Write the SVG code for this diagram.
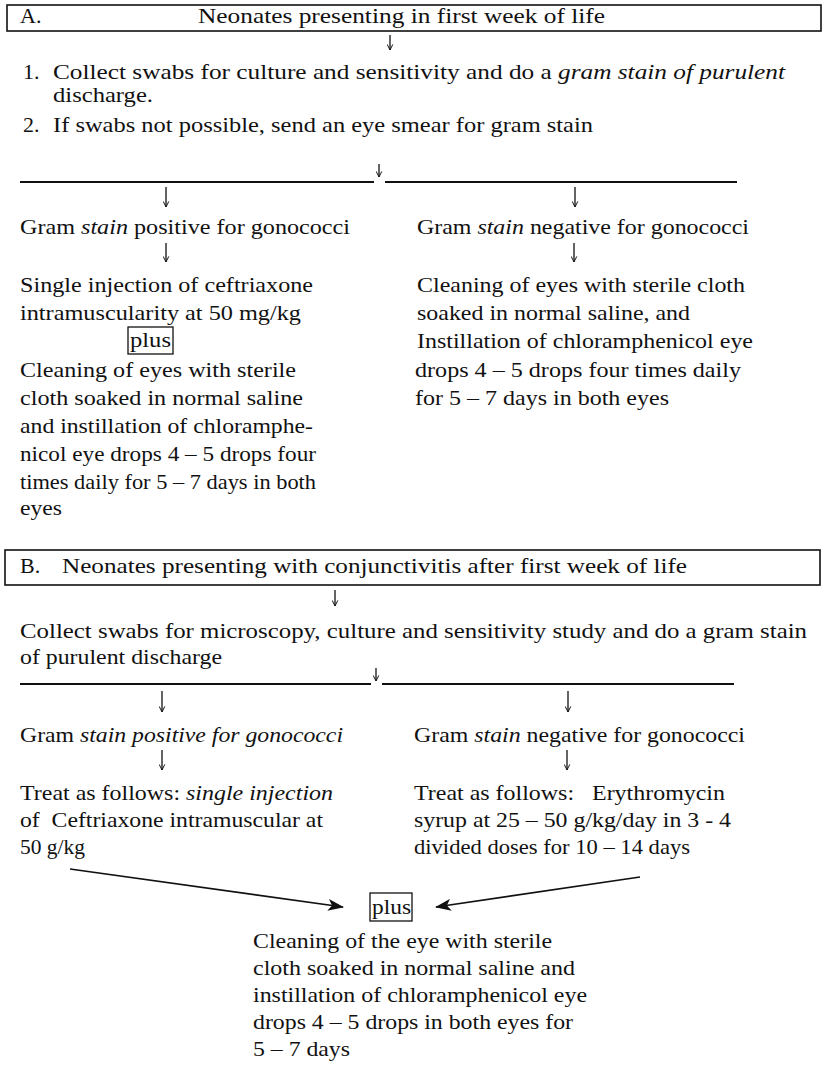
<svg xmlns="http://www.w3.org/2000/svg" width="825" height="1066" viewBox="0 0 825 1066">
<style>
text{font-family:"Liberation Serif","Times New Roman",serif;font-size:22px;fill:#111}
.i{font-style:italic}
.box{fill:none;stroke:#111;stroke-width:1.6}
.pbox{fill:none;stroke:#111;stroke-width:1.3}
.rule{stroke:#111;stroke-width:1.8;fill:none}
.dn{stroke:#111;stroke-width:1.3;fill:none;marker-end:url(#open)}
.big{stroke:#111;stroke-width:1.6;fill:none;marker-end:url(#solid)}
</style>
<defs>
<marker id="open" viewBox="0 0 10 10" refX="9" refY="5" markerWidth="7" markerHeight="7" markerUnits="userSpaceOnUse" orient="auto">
<path d="M1,1 L9,5 L1,9" fill="none" stroke="#111" stroke-width="1.4"/>
</marker>
<marker id="solid" viewBox="0 0 16 12" refX="15" refY="6" markerWidth="16" markerHeight="12" markerUnits="userSpaceOnUse" orient="auto">
<path d="M0,0 L16,6 L0,12 L4,6 Z" fill="#111"/>
</marker>
</defs>
<rect width="825" height="1066" fill="#fff"/>

<g id="headerA">
<rect class="box" x="7" y="5" width="814" height="26"/>
<text x="20" y="23">A.</text>
<text x="198" y="23" textLength="407" lengthAdjust="spacingAndGlyphs">Neonates presenting in first week of life</text>
</g>

<g id="stepsA">
<text x="23" y="79">1.</text>
<text x="53" y="79" textLength="732" lengthAdjust="spacingAndGlyphs">Collect swabs for culture and sensitivity and do a <tspan class="i">gram stain of purulent</tspan></text>
<text x="53" y="102" textLength="100" lengthAdjust="spacingAndGlyphs">discharge.</text>
<text x="23" y="132">2.</text>
<text x="53" y="132" textLength="540" lengthAdjust="spacingAndGlyphs">If swabs not possible, send an eye smear for gram stain</text>
</g>

<g id="posA">
<text x="20" y="234" textLength="330" lengthAdjust="spacingAndGlyphs">Gram <tspan class="i">stain</tspan> positive for gonococci</text>
</g>
<g id="posTreatA">
<text x="20" y="292" textLength="293" lengthAdjust="spacingAndGlyphs">Single injection of ceftriaxone</text>
<text x="20" y="320" textLength="281" lengthAdjust="spacingAndGlyphs">intramuscularity at 50 mg/kg</text>
<rect class="pbox" x="128" y="327" width="45" height="27"/>
<text x="130" y="347" textLength="41" lengthAdjust="spacingAndGlyphs">plus</text>
<text x="20" y="377" textLength="276" lengthAdjust="spacingAndGlyphs">Cleaning of eyes with sterile</text>
<text x="20" y="405" textLength="283" lengthAdjust="spacingAndGlyphs">cloth soaked in normal saline</text>
<text x="20" y="433" textLength="293" lengthAdjust="spacingAndGlyphs">and instillation of chloramphe-</text>
<text x="20" y="461" textLength="296" lengthAdjust="spacingAndGlyphs">nicol eye drops 4 – 5 drops four</text>
<text x="20" y="489" textLength="296" lengthAdjust="spacingAndGlyphs">times daily for 5 – 7 days in both</text>
<text x="20" y="515" textLength="42" lengthAdjust="spacingAndGlyphs">eyes</text>
</g>

<g id="negA">
<text x="417" y="234" textLength="332" lengthAdjust="spacingAndGlyphs">Gram <tspan class="i">stain</tspan> negative for gonococci</text>
</g>
<g id="negTreatA">
<text x="417" y="292" textLength="328" lengthAdjust="spacingAndGlyphs">Cleaning of eyes with sterile cloth</text>
<text x="417" y="320" textLength="273" lengthAdjust="spacingAndGlyphs">soaked in normal saline, and</text>
<text x="417" y="348" textLength="336" lengthAdjust="spacingAndGlyphs">Instillation of chloramphenicol eye</text>
<text x="415" y="377" textLength="326" lengthAdjust="spacingAndGlyphs">drops 4 – 5 drops four times daily</text>
<text x="415" y="405" textLength="254" lengthAdjust="spacingAndGlyphs">for 5 – 7 days in both eyes</text>
</g>

<g id="headerB">
<rect class="box" x="5" y="550" width="815" height="35"/>
<text x="20" y="573">B.</text>
<text x="62" y="573" textLength="625" lengthAdjust="spacingAndGlyphs">Neonates presenting with conjunctivitis after first week of life</text>
</g>

<g id="stepB">
<text x="20" y="638" textLength="787" lengthAdjust="spacingAndGlyphs">Collect swabs for microscopy, culture and sensitivity study and do a gram stain</text>
<text x="20" y="664" textLength="202" lengthAdjust="spacingAndGlyphs">of purulent discharge</text>
</g>

<g id="posB">
<text x="20" y="742" textLength="323" lengthAdjust="spacingAndGlyphs">Gram <tspan class="i">stain positive for gonococci</tspan></text>
</g>
<g id="posTreatB">
<text x="20" y="800" textLength="313" lengthAdjust="spacingAndGlyphs">Treat as follows: <tspan class="i">single injection</tspan></text>
<text x="20" y="827" textLength="303" lengthAdjust="spacingAndGlyphs" xml:space="preserve">of  Ceftriaxone intramuscular at</text>
<text x="20" y="854" textLength="65" lengthAdjust="spacingAndGlyphs">50 g/kg</text>
</g>

<g id="negB">
<text x="414" y="742" textLength="331" lengthAdjust="spacingAndGlyphs">Gram <tspan class="i">stain</tspan> negative for gonococci</text>
</g>
<g id="negTreatB">
<text x="414" y="800" textLength="311" lengthAdjust="spacingAndGlyphs" xml:space="preserve">Treat as follows:   Erythromycin</text>
<text x="414" y="827" textLength="317" lengthAdjust="spacingAndGlyphs">syrup at 25 – 50 g/kg/day in 3 - 4</text>
<text x="414" y="854" textLength="276" lengthAdjust="spacingAndGlyphs">divided doses for 10 – 14 days</text>
</g>

<g id="commonB">
<rect class="pbox" x="370" y="893" width="42" height="28"/>
<text x="372" y="914" textLength="39" lengthAdjust="spacingAndGlyphs">plus</text>
<text x="253" y="948" textLength="299" lengthAdjust="spacingAndGlyphs">Cleaning of the eye with sterile</text>
<text x="253" y="975" textLength="322" lengthAdjust="spacingAndGlyphs">cloth soaked in normal saline and</text>
<text x="253" y="1002" textLength="334" lengthAdjust="spacingAndGlyphs">instillation of chloramphenicol eye</text>
<text x="253" y="1029" textLength="320" lengthAdjust="spacingAndGlyphs">drops 4 – 5 drops in both eyes for</text>
<text x="253" y="1056" textLength="97" lengthAdjust="spacingAndGlyphs">5 – 7 days</text>
</g>

<g id="connectors">
<line class="dn" x1="390" y1="35" x2="390" y2="50"/>
<line class="dn" x1="379" y1="164" x2="379" y2="177"/>
<line class="rule" x1="20" y1="182" x2="374" y2="182"/>
<line class="rule" x1="385" y1="182" x2="737" y2="182"/>
<line class="dn" x1="166" y1="187" x2="166" y2="207"/>
<line class="dn" x1="575" y1="187" x2="575" y2="207"/>
<line class="dn" x1="166" y1="243" x2="166" y2="262"/>
<line class="dn" x1="574" y1="243" x2="574" y2="262"/>

<line class="dn" x1="335" y1="590" x2="335" y2="606"/>
<line class="dn" x1="376" y1="668" x2="376" y2="681"/>
<line class="rule" x1="20" y1="684" x2="371" y2="684"/>
<line class="rule" x1="382" y1="684" x2="734" y2="684"/>
<line class="dn" x1="162" y1="691" x2="162" y2="712"/>
<line class="dn" x1="568" y1="691" x2="568" y2="712"/>
<line class="dn" x1="162" y1="750" x2="162" y2="770"/>
<line class="dn" x1="567" y1="750" x2="567" y2="770"/>

<line class="big" x1="70" y1="869" x2="343" y2="907"/>
<line class="big" x1="640" y1="877" x2="436" y2="907"/>
</g>
</svg>
